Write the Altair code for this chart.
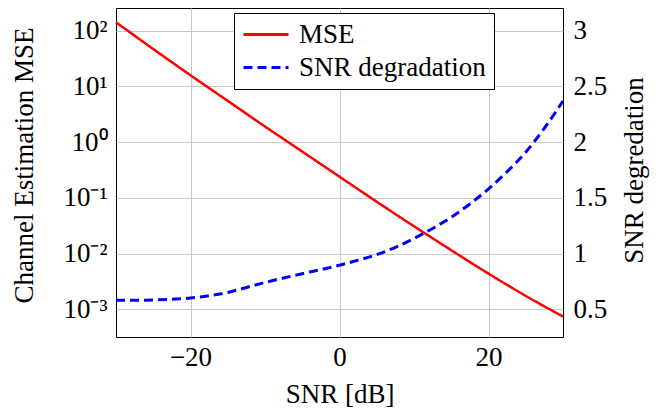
import altair as alt
import pandas as pd

# MSE curve
mse_snr = [-30, -25, -20, -15, -10, -5, 0, 5, 10, 15, 20, 25, 30]
mse_val = [141.3, 46.8, 15.85, 5.50, 1.905, 0.676, 0.240, 0.0851, 0.0309, 0.0115, 0.00437, 0.00174, 0.000741]

# SNR degradation curve
deg_snr = [-30, -27.5, -25, -22.5, -20, -17.5, -15, -12.5, -10, -7.5, -5, -2.5, 0,
           2.5, 5, 7.5, 10, 12.5, 15, 17.5, 20, 22.5, 25, 27.5, 30]
deg_val = [0.58, 0.58, 0.583, 0.59, 0.60, 0.62, 0.65, 0.695, 0.74, 0.78, 0.818, 0.855, 0.895,
           0.94, 0.99, 1.055, 1.135, 1.225, 1.325, 1.445, 1.58, 1.735, 1.91, 2.125, 2.37]

series_names = ["MSE", "SNR degradation"]
series_colors = ["#ff0000", "#0000ff"]

x_ticks = [-20, 0, 20]
left_ticks = [1e-3, 1e-2, 1e-1, 1e0, 1e1, 1e2]
right_ticks = [0.5, 1, 1.5, 2, 2.5, 3]

df_mse = pd.DataFrame({"snr": mse_snr, "val": mse_val, "series": series_names[0]})
df_deg = pd.DataFrame({"snr": deg_snr, "val": deg_val, "series": series_names[1]})

FONT = "Liberation Serif"
FS = 27

x_enc = alt.X(
    "snr:Q",
    scale=alt.Scale(domain=[-30, 30], nice=False, zero=False),
    axis=alt.Axis(
        values=x_ticks,
        labelExpr="datum.value < 0 ? '\u2212' + abs(datum.value) : '' + datum.value",
        title="SNR [dB]",
        titleY=65,
        titleBaseline="alphabetic",
        labelPadding=7,
        grid=True,
    ),
)

color_enc = alt.Color(
    "series:N",
    scale=alt.Scale(domain=series_names, range=series_colors),
    legend=alt.Legend(title=None),
)
dash_enc = alt.StrokeDash(
    "series:N",
    scale=alt.Scale(domain=series_names, range=[[1, 0], [9, 5]]),
    legend=alt.Legend(title=None),
)

mse_line = alt.Chart(df_mse).mark_line(strokeWidth=2.5, interpolate="monotone").encode(
    x=x_enc,
    y=alt.Y(
        "val:Q",
        scale=alt.Scale(type="log", domain=[10 ** -3.497, 10 ** 2.407], nice=False),
        axis=alt.Axis(
            orient="left",
            values=left_ticks,
            labelExpr="['10\u207b\u00b3','10\u207b\u00b2','10\u207b\u00b9','10\u2070','10\u00b9','10\u00b2'][round(log(datum.value)/LN10)+3]",
            labelPadding=9,
            grid=True,
            title="Channel Estimation MSE",
            titleAngle=270,
            titleX=-92,
            titleY=157,
            titleAlign="center",
            titleBaseline="middle",
        ),
    ),
    color=color_enc,
    strokeDash=dash_enc,
)

deg_line = alt.Chart(df_deg).mark_line(strokeWidth=3, interpolate="monotone").encode(
    x=x_enc,
    y=alt.Y(
        "val:Q",
        scale=alt.Scale(domain=[0.25, 3.205], nice=False, zero=False),
        axis=alt.Axis(
            orient="right",
            values=right_ticks,
            format="~g",
            labelPadding=10,
            grid=False,
            title="SNR degredation",
            titleAngle=270,
            titleX=71,
            titleY=162,
            titleAlign="center",
            titleBaseline="middle",
        ),
    ),
    color=color_enc,
    strokeDash=dash_enc,
)

chart = (
    alt.layer(mse_line, deg_line)
    .resolve_scale(y="independent")
    .properties(
        width=447,
        height=329,
        autosize=alt.AutoSizeParams(type="none"),
        padding={"left": 108, "top": 0, "right": 101, "bottom": 70},
        background="white",
    )
    .configure_view(stroke="black", strokeWidth=1)
    .configure_axis(
        labelFont=FONT,
        labelFontSize=FS,
        labelColor="black",
        titleFont=FONT,
        titleFontSize=FS,
        titleFontWeight="normal",
        titleColor="black",
        ticks=False,
        domain=False,
        gridColor="#c8c8c8",
        gridWidth=1,
    )
    .configure_legend(
        orient="none",
        legendX=118,
        legendY=5,
        fillColor="white",
        strokeColor="black",
        padding=8,
        labelFont=FONT,
        labelFontSize=FS,
        labelColor="black",
        labelOffset=9,
        labelLimit=400,
        symbolType="stroke",
        symbolSize=2025,
        symbolStrokeWidth=3,
        clipHeight=27,
        rowPadding=5,
        cornerRadius=0,
    )
)

chart.save("out.html", embed_options={"renderer": "svg", "actions": False})
